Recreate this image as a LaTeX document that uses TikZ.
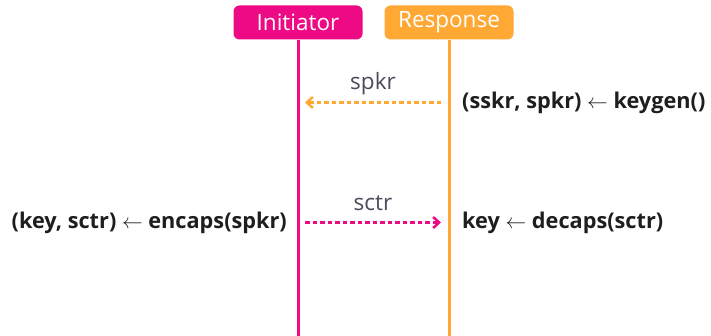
\documentclass[tikz,border=0pt]{standalone}
\usepackage{fontspec}
\setmainfont{Open Sans}
\usetikzlibrary{arrows.meta}
\definecolor{pinkc}{HTML}{EE0A84}
\definecolor{orangec}{HTML}{FFA833}
\definecolor{txt}{HTML}{1E1E1E}
\definecolor{lbl}{HTML}{4A4A5A}
\begin{document}
\begin{tikzpicture}[x=1pt,y=-1pt,
  head/.style={rounded corners=6pt, minimum width=129pt, minimum height=34pt, inner sep=0pt, text=white, font=\fontsize{22.5}{24}\selectfont},
  life/.style={line width=3pt},
  msg/.style={line width=2.5pt, dash pattern=on 4.5pt off 3pt, -{Straight Barb[length=6pt,width=11pt,line width=2.5pt]}},
  stmt/.style={text=txt, font=\bfseries\fontsize{21.7}{24}\selectfont, inner sep=0pt},
  mlbl/.style={text=lbl, font=\fontsize{22.5}{24}\selectfont, inner sep=0pt}]
\useasboundingbox (0,0) rectangle (711,336);
\node[head, fill=pinkc] (ini) at (298,22.5) {Initiator};
\node[head, fill=orangec] (res) at (449,22.5) {Response};
\coordinate (iniend) at (298,336);
\coordinate (resend) at (449,336);
\draw[life, pinkc] (ini.south) -- (iniend);
\draw[life, orangec] (res.south) -- (resend);
\coordinate (a1s) at (441,102.5);
\coordinate (a1e) at (305,102.5);
\coordinate (a2s) at (305,222.5);
\coordinate (a2e) at (441,222.5);
\draw[msg, orangec] (a1s) -- (a1e) node[mlbl, midway, yshift=19pt] (l1) {spkr};
\draw[msg, pinkc] (a2s) -- (a2e) node[mlbl, midway, yshift=19pt] (l2) {sctr};
\node[stmt, anchor=west] (kg) at (462,102.5) {(sskr, spkr) $\leftarrow$ keygen()};
\node[stmt, anchor=east] (enc) at (287,222.5) {(key, sctr) $\leftarrow$ encaps(spkr)};
\node[stmt, anchor=west] (dec) at (462,222.5) {key $\leftarrow$ decaps(sctr)};
\end{tikzpicture}
\end{document}
